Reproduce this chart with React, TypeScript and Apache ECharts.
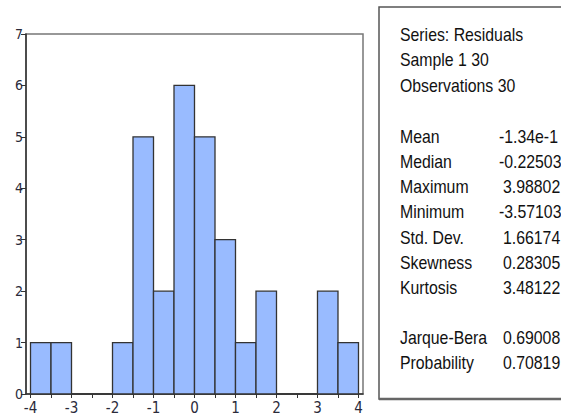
import React, { useEffect, useRef } from "react";
import * as echarts from "echarts";

const binStarts = [-4, -3.5, -3, -2.5, -2, -1.5, -1, -0.5, 0, 0.5, 1, 1.5, 2, 2.5, 3, 3.5];
const binWidth = 0.5;
const counts = [1, 1, 0, 0, 1, 5, 2, 6, 5, 3, 1, 2, 0, 0, 2, 1];
const xLabelValues = [-4, -3, -2, -1, 0, 1, 2, 3, 4];
const xTickValues = [-4, -3.5, -3, -2.5, -2, -1.5, -1, -0.5, 0, 0.5, 1, 1.5, 2, 2.5, 3, 3.5, 4];

const headerLines = ["Series: Residuals", "Sample 1 30", "Observations 30"];
const statNames = ["Mean", "Median", "Maximum", "Minimum", "Std. Dev.", "Skewness", "Kurtosis"];
const statValues = ["-1.34e-1", "-0.22503", "3.98802", "-3.57103", "1.66174", "0.28305", "3.48122"];
const testNames = ["Jarque-Bera", "Probability"];
const testValues = ["0.69008", "0.70819"];

const FONT = "'Liberation Sans', Arial, sans-serif";
const NARROW = "'Liberation Sans Narrow', 'DejaVu Sans Condensed', 'Liberation Sans', Arial, sans-serif";

export default function App() {
  const ref = useRef<HTMLDivElement>(null);
  useEffect(() => {
    if (!ref.current) return;
    const chart = echarts.init(ref.current, null, { renderer: "svg" });
    const data = binStarts.map((s, i) => [s, s + binWidth, counts[i]]);

    const texts: any[] = [];
    const addText = (t: string, x: number, y: number) =>
      texts.push({
        type: "text",
        x,
        y,
        scaleX: 0.88,
        style: { text: t, fontSize: 18, fontFamily: FONT, fill: "#111", verticalAlign: "middle", align: "left" },
      });
    const headerY = [35, 60, 86];
    headerLines.forEach((t, i) => addText(t, 400, headerY[i]));
    statNames.forEach((t, i) => {
      const y = 137 + i * 25.2;
      addText(t, 400, y);
      addText(statValues[i], statValues[i].startsWith("-") ? 499 : 503, y);
    });
    testNames.forEach((t, i) => {
      const y = 338 + i * 25;
      addText(t, 400, y);
      addText(testValues[i], testValues[i].startsWith("-") ? 499 : 503, y);
    });

    chart.setOption({
      animation: false,
      backgroundColor: "#fff",
      grid: { left: 26, right: 198, top: 34, bottom: 25, show: true, borderColor: "#777", borderWidth: 1.5 },
      xAxis: {
        type: "value",
        min: -4.11,
        max: 4.11,
        splitLine: { show: false },
        axisLine: { show: true, onZero: false, lineStyle: { color: "#333", width: 1.5 } },
        axisTick: { show: true, customValues: xTickValues, length: 4, lineStyle: { color: "#333" } },
        axisLabel: { customValues: xLabelValues, fontSize: 15, fontFamily: NARROW, color: "#2a2a3a", margin: 6 },
      },
      yAxis: {
        type: "value",
        min: 0,
        max: 7,
        interval: 1,
        splitLine: { show: false },
        axisLine: { show: true, onZero: false, lineStyle: { color: "#333", width: 1.5 } },
        axisTick: { show: true, length: 5, lineStyle: { color: "#333" } },
        axisLabel: { fontSize: 14, fontFamily: NARROW, color: "#2a2a3a", margin: 3 },
      },
      series: [
        {
          type: "custom",
          data,
          encode: { x: [0, 1], y: 2 },
          renderItem: (params: any, api: any) => {
            const a = api.coord([api.value(0), api.value(2)]);
            const b = api.coord([api.value(1), 0]);
            return {
              type: "rect",
              shape: { x: a[0], y: a[1], width: b[0] - a[0], height: b[1] - a[1] },
              style: { fill: "#99bbff", stroke: "#333", lineWidth: 1.3 },
            };
          },
        },
      ],
      graphic: [
        {
          type: "rect",
          shape: { x: 379, y: 7, width: 220, height: 392 },
          style: { fill: "none", stroke: "#555", lineWidth: 1.5 },
        },
        {
          type: "line",
          shape: { x1: 379, y1: 399, x2: 561, y2: 399 },
          style: { stroke: "#666", lineWidth: 2.5 },
        },
        ...texts,
      ],
    });
    return () => chart.dispose();
  }, []);
  return <div ref={ref} style={{ position: "absolute", left: 0, top: 0, width: 561, height: 419 }} />;
}
